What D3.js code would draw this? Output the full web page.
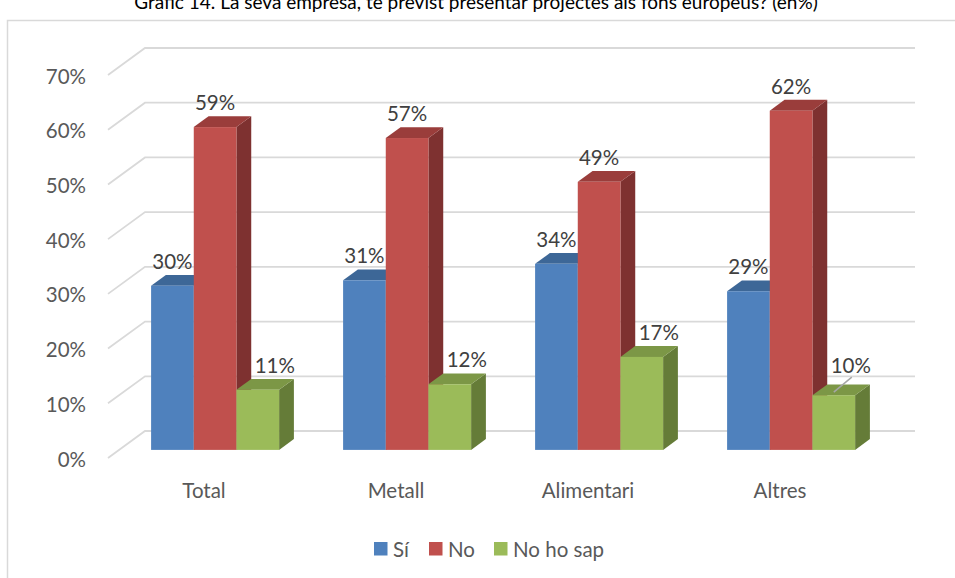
<!DOCTYPE html>
<html>
<head>
<meta charset="utf-8">
<script src="https://cdn.jsdelivr.net/npm/d3@7"></script>
<style>
  html, body { margin: 0; padding: 0; background: #fff; }
  svg { display: block; }
  text { font-family: Lato, "Open Sans", sans-serif; fill: #404040; }
</style>
</head>
<body>
<svg id="chart" width="955" height="578"></svg>
<script>
const title = "Gràfic 14. La seva empresa, té previst presentar projectes als fons europeus? (en%)";
const categories = ["Total", "Metall", "Alimentari", "Altres"];
const seriesNames = ["Sí", "No", "No ho sap"];
const si = [30, 31, 34, 29];
const no = [59, 57, 49, 62];
const noHoSap = [11, 12, 17, 10];
const yTicks = [0, 10, 20, 30, 40, 50, 60, 70];
const seriesValues = [si, no, noHoSap];

const frontCol = ["#4F81BD", "#C0504D", "#9BBB59"];
const topCol = ["#3D6797", "#9A3D3B", "#7C9746"];
const sideCol = ["#34587F", "#7E3130", "#657C38"];

const svg = d3.select("#chart");

// depth projection of the 3D box
const DX = 37, DY = 27;
const z0 = 0.3, z1 = 0.7;

const y = d3.scaleLinear().domain([0, 70]).range([458, 75]);
const x0 = d3.scaleBand().domain(categories).range([108, 876]).paddingInner(1 / 3).paddingOuter(1 / 6);
const x1 = d3.scaleBand().domain(seriesNames).range([0, x0.bandwidth()]);

// frame
svg.append("rect").attr("x", 7.5).attr("y", 20.5).attr("width", 980).attr("height", 600)
  .attr("fill", "none").attr("stroke", "#d9d9d9").attr("stroke-width", 1.5);

// title
svg.append("text").attr("x", 476).attr("y", 9).attr("text-anchor", "middle")
  .style("font-size", "19px").style("fill", "#000").text(title);

// gridlines (left wall diagonal + back wall)
const grid = svg.append("g");
yTicks.forEach(t => {
  const yy = y(t);
  grid.append("path")
    .attr("d", `M108,${yy} L${108 + DX},${yy - DY} L915,${yy - DY}`)
    .attr("fill", "none").attr("stroke", "#d9d9d9").attr("stroke-width", 1.8);
});

// y axis labels
svg.append("g").selectAll("text").data(yTicks).join("text")
  .attr("x", 86).attr("y", d => y(d) + 8.5).attr("text-anchor", "end")
  .style("font-size", "20.5px").style("fill", "#595959")
  .text(d => d + "%");

// category labels
svg.append("g").selectAll("text").data(categories).join("text")
  .attr("x", d => x0(d) + x0.bandwidth() / 2).attr("y", 498).attr("text-anchor", "middle")
  .style("font-size", "20.5px").style("fill", "#595959")
  .text(d => d);

// bars
const bars = svg.append("g");
const labels = svg.append("g");
const ddx = (z1 - z0) * DX, ddy = (z1 - z0) * DY;
categories.forEach((c, ci) => {
  seriesNames.forEach((s, si_) => {
    const v = seriesValues[si_][ci];
    const w = x1.bandwidth();
    const fx = x0(c) + x1(s) + z0 * DX;
    const ft = y(v) - z0 * DY;
    const fb = y(0) - z0 * DY;
    // side
    bars.append("path")
      .attr("d", `M${fx + w},${ft} L${fx + w + ddx},${ft - ddy} L${fx + w + ddx},${fb - ddy} L${fx + w},${fb} Z`)
      .attr("fill", sideCol[si_]);
    // top
    bars.append("path")
      .attr("d", `M${fx},${ft} L${fx + w},${ft} L${fx + w + ddx},${ft - ddy} L${fx + ddx},${ft - ddy} Z`)
      .attr("fill", topCol[si_]);
    // front
    bars.append("rect").attr("x", fx).attr("y", ft).attr("width", w).attr("height", fb - ft)
      .attr("fill", frontCol[si_]);

    // value label
    let lx = fx + w / 2, ly = ft - 17;
    if (si_ === 2) {
      lx += 17;
      if (ci === 3) {
        ly -= 5;
        labels.append("line")
          .attr("x1", lx + 1).attr("y1", ly + 4)
          .attr("x2", fx + w / 2).attr("y2", ft - 3)
          .attr("stroke", "#a6a6a6").attr("stroke-width", 1.5);
      }
    }
    labels.append("text").attr("x", lx).attr("y", ly).attr("text-anchor", "middle")
      .style("font-size", "20.5px").style("fill", "#404040")
      .text(v + "%");
  });
});

// legend
const legendItems = [
  { name: seriesNames[0], x: 374 },
  { name: seriesNames[1], x: 429 },
  { name: seriesNames[2], x: 494 }
];
const lg = svg.append("g");
legendItems.forEach((d, i) => {
  lg.append("rect").attr("x", d.x).attr("y", 542).attr("width", 13.5).attr("height", 13.5)
    .attr("fill", frontCol[i]);
  lg.append("text").attr("x", d.x + 19).attr("y", 556.5)
    .style("font-size", "20.5px").style("fill", "#595959").text(d.name);
});
</script>
</body>
</html>
